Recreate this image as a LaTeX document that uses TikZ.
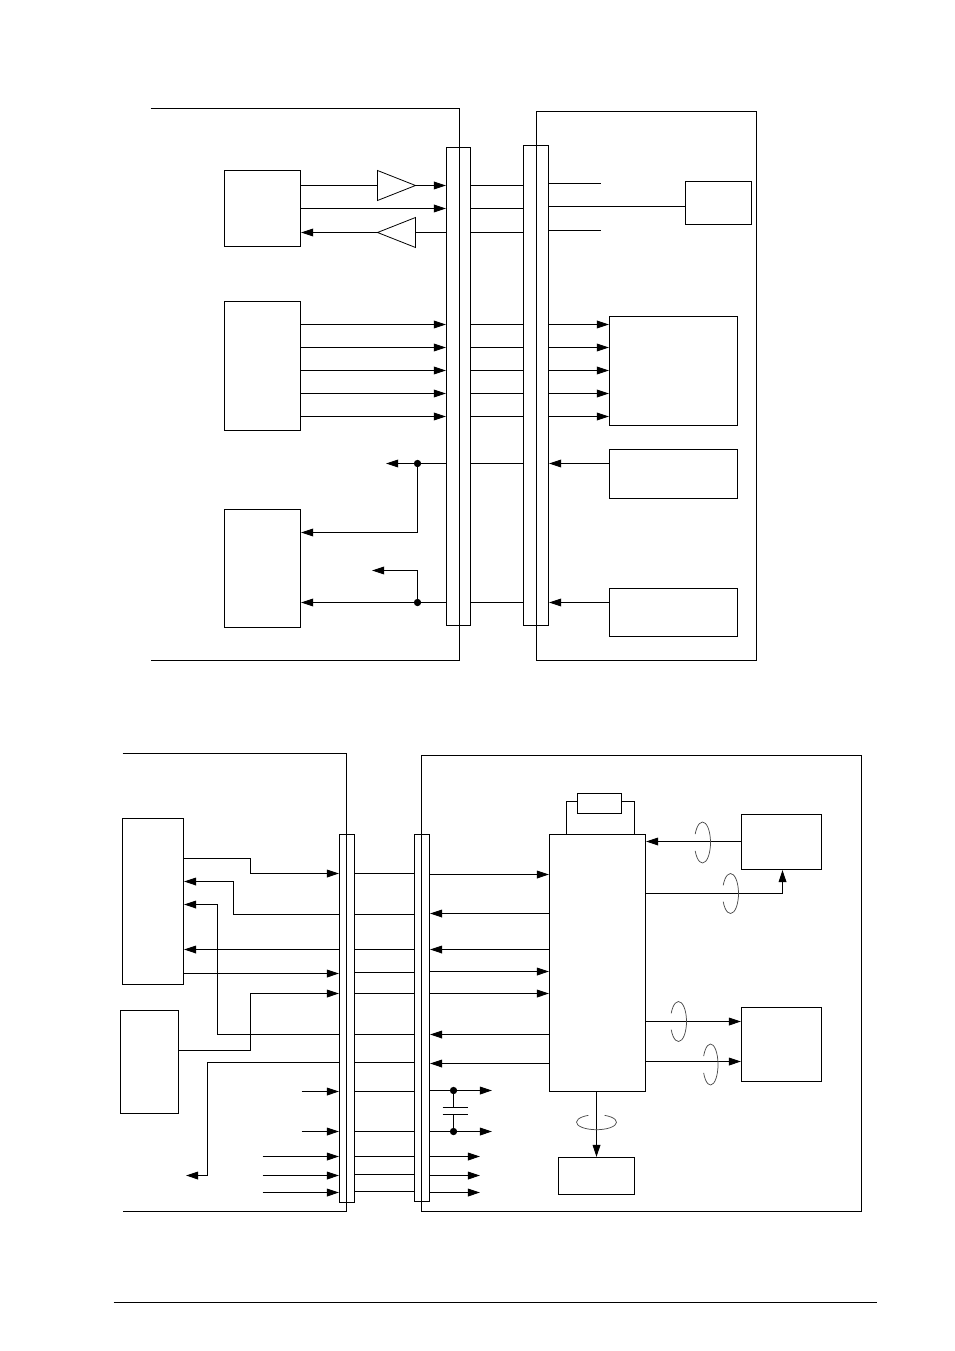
\documentclass[tikz,border=0pt]{standalone}
\usetikzlibrary{arrows.meta,fit,shapes.geometric}
\tikzset{
  pbox/.style={draw,line width=0.75pt,inner sep=0pt,outer sep=0pt,rectangle},
  conn/.style={draw,line width=0.75pt},
  arr/.style={conn,-{Triangle[length=9pt,width=5.8pt]},shorten >=0.4pt},
  jdot/.style={circle,fill=black,inner sep=0pt,outer sep=0pt,minimum size=5.5pt},
  amp/.style={draw,line width=0.6pt,isosceles triangle,isosceles triangle stretches,inner sep=0pt,outer sep=0pt,minimum width=22.5pt,minimum height=28.5pt},
  twist/.style={draw=black!70,line width=0.55pt},
}
\newcommand{\hlink}[4][conn]{\draw[#1] (#2 |- 0,#4) -- (#3 |- 0,#4);}
\newcommand{\vtwist}[4]{\draw[twist] (#1,#2) ++(156:#3 and #4) arc[start angle=156,end angle=-156,x radius=#3,y radius=#4];}
\begin{document}
\begin{tikzpicture}[x=0.75pt,y=-0.75pt]
\useasboundingbox (-0.5,-0.5) rectangle (953.5,1350.5);
\fill[white] (-0.5,-0.5) rectangle (953.5,1350.5);

% ---------- upper diagram ----------
\draw[conn] (150,108) -- (459,108) -- (459,660) -- (150,660);
\node[pbox,fit={(536,111)(756,660)}] (RE) {};
\node[pbox,fit={(446,147)(470,625)}] (B1) {};
\node[pbox,fit={(523,145)(548,625)}] (B2) {};
\node[pbox,fit={(224,170)(300,246)}] (A) {};
\node[pbox,fit={(224,301)(300,430)}] (L2) {};
\node[pbox,fit={(224,509)(300,627)}] (L3) {};
\node[pbox,fit={(685,181)(751,224)}] (R1) {};
\node[pbox,fit={(609,316)(737,425)}] (R2) {};
\node[pbox,fit={(609,449)(737,498)}] (R3) {};
\node[pbox,fit={(609,588)(737,636)}] (R4) {};
\node[amp,anchor=apex] (T1) at (415,185) {};
\node[amp,anchor=apex,shape border rotate=180] (T2) at (377,232) {};
\coordinate (e1) at (600,183);
\coordinate (e2) at (600,230);

\hlink{A.east}{T1.lower side}{185}
\hlink[arr]{T1.apex}{B1.west}{185}
\hlink[arr]{A.east}{B1.west}{208}
\hlink{B1.west}{T2.lower side}{232}
\hlink[arr]{T2.apex}{A.east}{232}
\foreach \y in {185,208,232} {\hlink{B1.east}{B2.west}{\y}}
\hlink{B2.east}{e1}{183}
\hlink{B2.east}{R1.west}{206}
\hlink{B2.east}{e2}{230}
\foreach \y in {324,347,370,393,416} {
  \hlink[arr]{L2.east}{B1.west}{\y}
  \hlink{B1.east}{B2.west}{\y}
  \hlink[arr]{B2.east}{R2.west}{\y}
}
\node[jdot] (d1) at (417,463) {};
\node[jdot] (d2) at (417,602) {};
\coordinate (f1) at (385,463);
\coordinate (f2) at (371,570);
\draw[conn] (B1.west |- d1) -- (d1);
\draw[arr] (d1) -- (f1);
\draw[arr] (d1) -- (d1 |- 0,532) -- (L3.east |- 0,532);
\draw[arr] (B1.west |- d2) -- (L3.east |- d2);
\draw[arr] (d2) -- (d2 |- f2) -- (f2);
\hlink{B1.east}{B2.west}{463}
\hlink{B1.east}{B2.west}{602}
\hlink[arr]{R3.west}{B2.east}{463}
\hlink[arr]{R4.west}{B2.east}{602}

% ---------- lower diagram ----------
\draw[conn] (122,753) -- (346,753) -- (346,1211) -- (122,1211);
\node[pbox,fit={(421,755)(861,1211)}] (RF) {};
\node[pbox,fit={(339,834)(354,1202)}] (C1) {};
\node[pbox,fit={(414,834)(429,1201)}] (C2) {};
\node[pbox,fit={(122,818)(183,984)}] (P) {};
\node[pbox,fit={(120,1010)(178,1113)}] (Q) {};
\node[pbox,fit={(549,834)(645,1091)}] (M) {};
\node[pbox,fit={(577,793)(621,813)}] (X) {};
\node[pbox,fit={(741,814)(821,869)}] (U) {};
\node[pbox,fit={(741,1007)(821,1081)}] (V) {};
\node[pbox,fit={(558,1157)(634,1194)}] (W) {};

\draw[conn] (M.north -| 566,0) -- (566,801) -- (X.west |- 0,801);
\draw[conn] (X.east |- 0,801) -- (634,801) -- (M.north -| 634,0);

% left side
\draw[arr] (P.east |- 0,858) -- (250,858) -- (250,873) -- (C1.west |- 0,873);
\draw[arr] (C1.west |- 0,914) -- (233,914) -- (233,881) -- (P.east |- 0,881);
\hlink[arr]{C1.west}{P.east}{949}
\hlink[arr]{P.east}{C1.west}{973}
\draw[arr] (Q.east |- 0,1050) -- (250,1050) -- (250,993) -- (C1.west |- 0,993);
\draw[arr] (C1.west |- 0,1034) -- (217,1034) -- (217,904) -- (P.east |- 0,904);
\coordinate (g0) at (185,1175);
\draw[arr] (C1.west |- 0,1062) -- (207,1062) -- (207,1175) -- (g0);
\coordinate (g1) at (301,1091);
\coordinate (g2) at (262,1156);
\hlink[arr]{g1}{C1.west}{1091}
\hlink[arr]{g1}{C1.west}{1131}
\hlink[arr]{g2}{C1.west}{1156}
\hlink[arr]{g2}{C1.west}{1175}
\hlink[arr]{g2}{C1.west}{1192}

\foreach \y in {873,914,949,972,993,1034,1062,1091,1131,1156,1174,1191} {\hlink{C1.east}{C2.west}{\y}}

\hlink[arr]{C2.east}{M.west}{874}
\hlink[arr]{M.west}{C2.east}{913}
\hlink[arr]{M.west}{C2.east}{949}
\hlink[arr]{C2.east}{M.west}{971}
\hlink[arr]{C2.east}{M.west}{993}
\hlink[arr]{M.west}{C2.east}{1034}
\hlink[arr]{M.west}{C2.east}{1063}

\node[jdot] (d3) at (453,1090) {};
\node[jdot] (d4) at (453,1131) {};
\coordinate (h1) at (492,1090);
\coordinate (h2) at (492,1131);
\draw[conn] (C2.east |- d3) -- (d3);
\draw[conn] (C2.east |- d4) -- (d4);
\draw[arr] (d3) -- (h1);
\draw[arr] (d4) -- (h2);
\coordinate (p1) at (453,1107);
\coordinate (p2) at (453,1114);
\draw[conn] (d3) -- (p1);
\draw[conn] (p2) -- (d4);
\draw[conn] (442,1107) -- (467,1107);
\draw[conn] (442,1114) -- (467,1114);
\coordinate (h3) at (480,1156);
\hlink[arr]{C2.east}{h3}{1156}
\hlink[arr]{C2.east}{h3}{1175}
\hlink[arr]{C2.east}{h3}{1192}

\hlink[arr]{U.west}{M.east}{841}
\draw[arr] (M.east |- 0,893) -- (782,893) -- (U.south -| 782,0);
\hlink[arr]{M.east}{V.west}{1021}
\hlink[arr]{M.east}{V.west}{1061}
\draw[arr] (M.south -| 596,0) -- (W.north -| 596,0);

% twist marks
\vtwist{702}{842}{8}{20.5}
\vtwist{730}{893}{8}{20}
\vtwist{678}{1021}{8}{20}
\vtwist{710}{1064}{7.5}{20.5}
\draw[twist] (596,1121.7) ++(-66:20 and 7.5) arc[start angle=-66,end angle=246,x radius=20,y radius=7.5];

% page rule
\draw[conn] (113,1302) -- (876,1302);
\end{tikzpicture}
\end{document}
